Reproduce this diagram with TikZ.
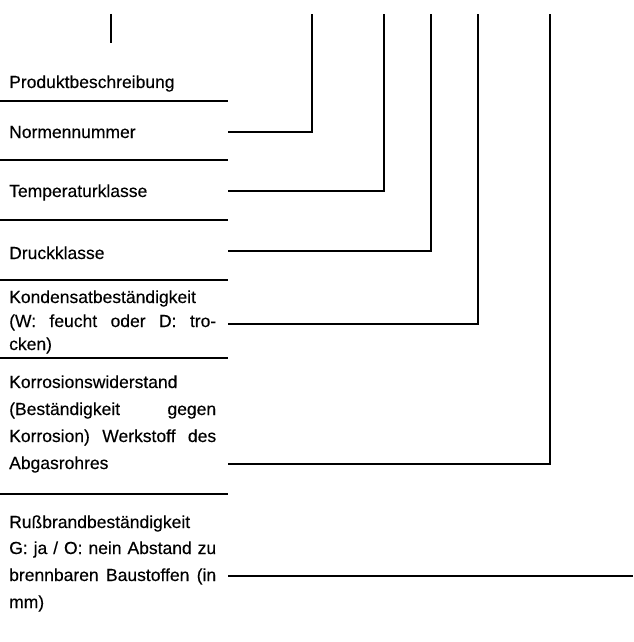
\documentclass[tikz,border=0pt]{standalone}
\usepackage{fontspec}
\setmainfont{Liberation Sans}[FakeBold=0.3]
\begin{document}
\begin{tikzpicture}[x=1pt,y=-1pt,
  lbl/.style={anchor=base west, inner sep=0pt, font=\fontsize{17.5}{20}\selectfont},
  rule/.style={line width=1.3pt},
  conn/.style={line width=1.3pt}]
\useasboundingbox (0,0) rectangle (633,642);
\def\jw{207pt}
% text
\node[lbl] (t1) at (9,88) {Produktbeschreibung};
\node[lbl] (t2) at (9,138) {Normennummer};
\node[lbl] (t3) at (9,197) {Temperaturklasse};
\node[lbl] (t4) at (9,259) {Druckklasse};
\node[lbl] (t5a) at (9,303) {Kondensatbeständigkeit};
\node[lbl] (t5b) at (9,327) {\hbox to \jw{(W:\hfill feucht\hfill oder\hfill D:\hfill tro-}};
\node[lbl] (t5c) at (9,350) {cken)};
\node[lbl] (t6a) at (9,388) {Korrosionswiderstand};
\node[lbl] (t6b) at (9,415) {\hbox to \jw{(Beständigkeit\hfill gegen}};
\node[lbl] (t6c) at (9,442) {\hbox to \jw{Korrosion)\hfill Werkstoff\hfill des}};
\node[lbl] (t6d) at (9,469) {Abgasrohres};
\node[lbl] (t7a) at (9,528) {Rußbrandbeständigkeit};
\node[lbl] (t7b) at (9,554) {\hbox to \jw{G:\hfill ja\hfill /\hfill O:\hfill nein\hfill Abstand\hfill zu}};
\node[lbl] (t7c) at (9,581) {\hbox to \jw{brennbaren\hfill Baustoffen\hfill (in}};
\node[lbl] (t7d) at (9,608) {mm)};
% separators
\foreach \y/\n in {101/s1,160/s2,220/s3,280/s4,358/s5,494/s6}{
  \coordinate (\n l) at (0,\y); \coordinate (\n r) at (228,\y);
  \draw[rule] (\n l) -- (\n r);
}
% top stub
\coordinate (stubT) at (111,14);
\coordinate (stubB) at (111,43);
\draw[rule] (stubT) -- (stubB);
% connectors
\coordinate (c1s) at (228,132); \coordinate (c1c) at (312,132); \coordinate (c1t) at (312,14);
\coordinate (c2s) at (228,191); \coordinate (c2c) at (384,191); \coordinate (c2t) at (384,14);
\coordinate (c3s) at (228,251); \coordinate (c3c) at (431,251); \coordinate (c3t) at (431,14);
\coordinate (c4s) at (228,324); \coordinate (c4c) at (478,324); \coordinate (c4t) at (478,14);
\coordinate (c5s) at (228,464); \coordinate (c5c) at (550,464); \coordinate (c5t) at (550,14);
\coordinate (c6s) at (228,576); \coordinate (c6e) at (633,576);
\draw[conn] (c1s) -- (c1c) -- (c1t);
\draw[conn] (c2s) -- (c2c) -- (c2t);
\draw[conn] (c3s) -- (c3c) -- (c3t);
\draw[conn] (c4s) -- (c4c) -- (c4t);
\draw[conn] (c5s) -- (c5c) -- (c5t);
\draw[conn] (c6s) -- (c6e);
\end{tikzpicture}
\end{document}
